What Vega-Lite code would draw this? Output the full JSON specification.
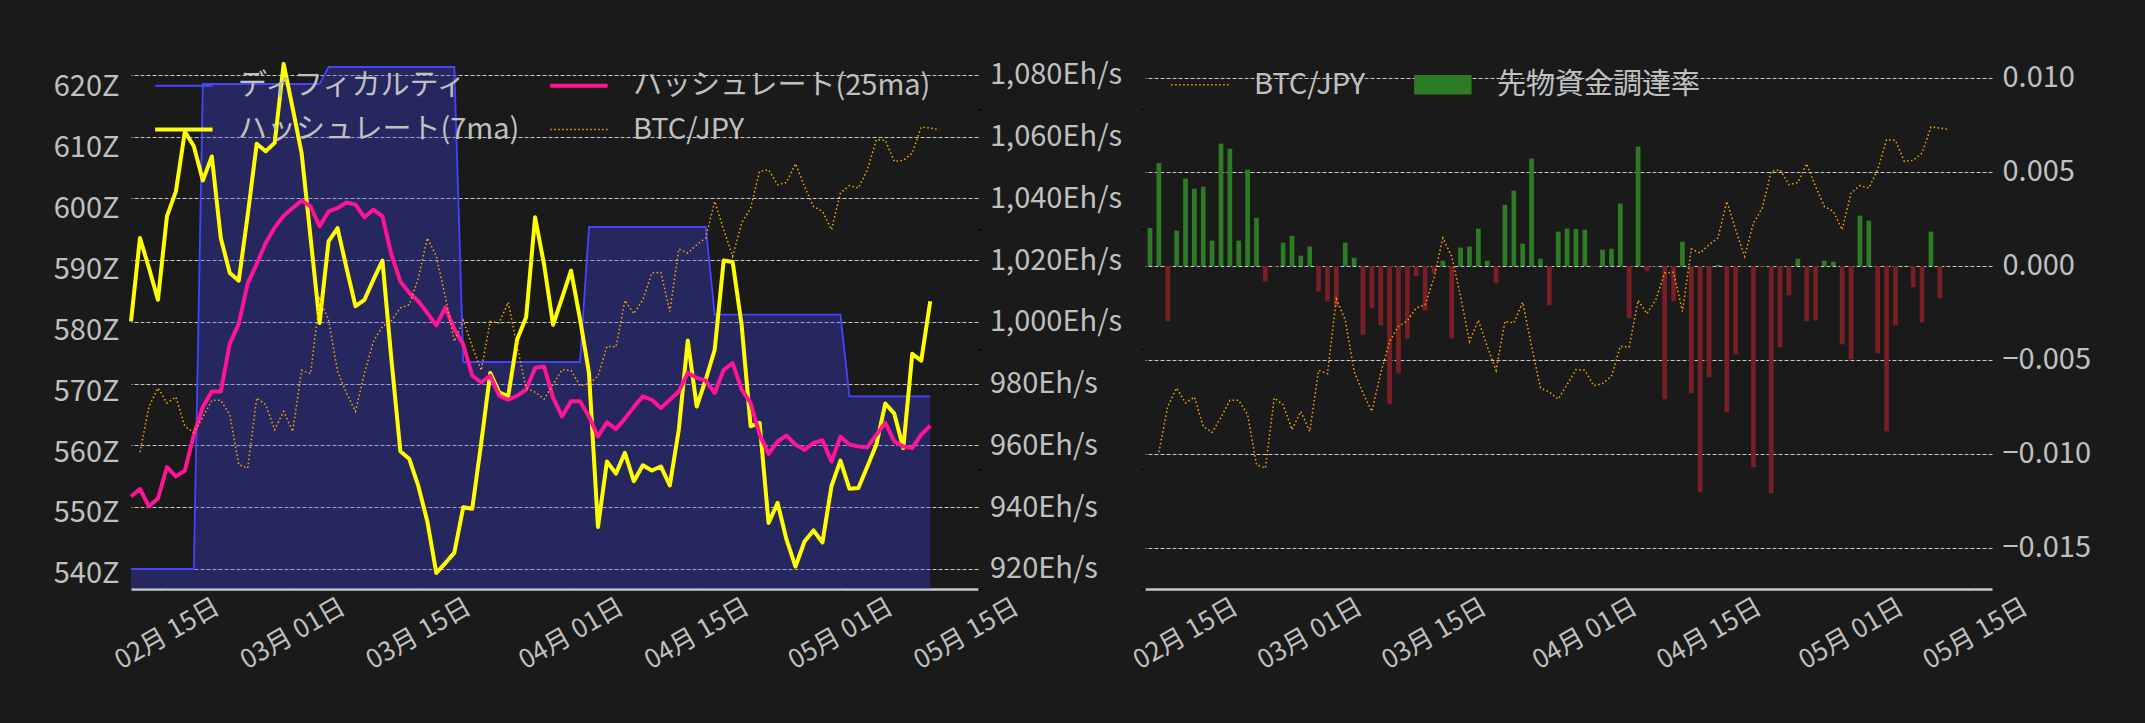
{
  "$schema": "https://vega.github.io/schema/vega-lite/v6.json",
  "background": "#1a1a1a",
  "padding": {"left": 53, "top": 40, "right": 70, "bottom": 70},
  "config": {
    "view": {"stroke": null},
    "font": "Noto Sans CJK JP",
    "axis": {"labelColor": "#c0c0c0", "labelFont": "Noto Sans CJK JP"},
    "legend": {"labelFont": "Noto Sans CJK JP", "labelColor": "#c0c0c0"}
  },
  "data": {
    "values": [
      {"date": "2025-02-11", "difficulty": 540.8, "hash7": 1000.2, "hash25": 943.5, "btc": null, "funding": 0.00202},
      {"date": "2025-02-12", "difficulty": 540.8, "hash7": 1027.2, "hash25": 945.9, "btc": 12140000, "funding": 0.00548},
      {"date": "2025-02-13", "difficulty": 540.8, "hash7": 1017.5, "hash25": 940.3, "btc": 12520000, "funding": -0.00294},
      {"date": "2025-02-14", "difficulty": 540.8, "hash7": 1007.2, "hash25": 942.8, "btc": 12675000, "funding": 0.00188},
      {"date": "2025-02-15", "difficulty": 540.8, "hash7": 1034.2, "hash25": 953.0, "btc": 12550000, "funding": 0.00465},
      {"date": "2025-02-16", "difficulty": 540.8, "hash7": 1042.3, "hash25": 950.0, "btc": 12600000, "funding": 0.00411},
      {"date": "2025-02-17", "difficulty": 540.8, "hash7": 1061.7, "hash25": 951.9, "btc": 12355000, "funding": 0.00422},
      {"date": "2025-02-18", "difficulty": 540.8, "hash7": 1056.9, "hash25": 963.5, "btc": 12305000, "funding": 0.00135},
      {"date": "2025-02-19", "difficulty": 620.39, "hash7": 1045.8, "hash25": 972.5, "btc": 12430000, "funding": 0.00651},
      {"date": "2025-02-20", "difficulty": 620.39, "hash7": 1053.6, "hash25": 977.5, "btc": 12572000, "funding": 0.00624},
      {"date": "2025-02-21", "difficulty": 620.39, "hash7": 1027.2, "hash25": 977.5, "btc": 12572000, "funding": 0.00135},
      {"date": "2025-02-22", "difficulty": 620.39, "hash7": 1015.9, "hash25": 993.0, "btc": 12453000, "funding": 0.00512},
      {"date": "2025-02-23", "difficulty": 620.39, "hash7": 1013.4, "hash25": 999.4, "btc": 12036000, "funding": 0.00257},
      {"date": "2025-02-24", "difficulty": 620.39, "hash7": 1034.7, "hash25": 1012.6, "btc": 12008000, "funding": -0.00082},
      {"date": "2025-02-25", "difficulty": 620.39, "hash7": 1057.7, "hash25": 1018.8, "btc": 12592000, "funding": -0.00005},
      {"date": "2025-02-26", "difficulty": 620.39, "hash7": 1055.3, "hash25": 1025.6, "btc": 12536000, "funding": 0.00124},
      {"date": "2025-02-27", "difficulty": 620.39, "hash7": 1058.0, "hash25": 1030.6, "btc": 12328000, "funding": 0.00161},
      {"date": "2025-02-28", "difficulty": 620.39, "hash7": 1083.6, "hash25": 1034.4, "btc": 12480000, "funding": 0.00055},
      {"date": "2025-03-01", "difficulty": 620.39, "hash7": 1069.3, "hash25": 1036.9, "btc": 12313000, "funding": 0.00103},
      {"date": "2025-03-02", "difficulty": 620.39, "hash7": 1054.7, "hash25": 1039.3, "btc": 12822000, "funding": -0.00135},
      {"date": "2025-03-03", "difficulty": 620.39, "hash7": 1027.2, "hash25": 1037.4, "btc": 12794000, "funding": -0.00188},
      {"date": "2025-03-04", "difficulty": 620.39, "hash7": 999.7, "hash25": 1031.0, "btc": 13417000, "funding": -0.00218},
      {"date": "2025-03-05", "difficulty": 623.18, "hash7": 1026.1, "hash25": 1035.8, "btc": 13244000, "funding": 0.00124},
      {"date": "2025-03-06", "difficulty": 623.18, "hash7": 1030.4, "hash25": 1036.9, "btc": 12814000, "funding": 0.00044},
      {"date": "2025-03-07", "difficulty": 623.18, "hash7": 1017.5, "hash25": 1038.7, "btc": 12633000, "funding": -0.00365},
      {"date": "2025-03-08", "difficulty": 623.18, "hash7": 1005.1, "hash25": 1038.0, "btc": 12480000, "funding": -0.00225},
      {"date": "2025-03-09", "difficulty": 623.18, "hash7": 1007.2, "hash25": 1033.9, "btc": 12800000, "funding": -0.00316},
      {"date": "2025-03-10", "difficulty": 623.18, "hash7": 1013.7, "hash25": 1036.4, "btc": 13063000, "funding": -0.00736},
      {"date": "2025-03-11", "difficulty": 623.18, "hash7": 1019.9, "hash25": 1034.2, "btc": 13188000, "funding": -0.00571},
      {"date": "2025-03-12", "difficulty": 623.18, "hash7": 987.8, "hash25": 1021.8, "btc": 13236000, "funding": -0.00385},
      {"date": "2025-03-13", "difficulty": 623.18, "hash7": 958.1, "hash25": 1013.1, "btc": 13342000, "funding": -0.00055},
      {"date": "2025-03-14", "difficulty": 623.18, "hash7": 955.6, "hash25": 1009.4, "btc": 13369000, "funding": -0.00236},
      {"date": "2025-03-15", "difficulty": 623.18, "hash7": 946.8, "hash25": 1006.7, "btc": 13592000, "funding": -0.00039},
      {"date": "2025-03-16", "difficulty": 623.18, "hash7": 935.4, "hash25": 1002.9, "btc": 13925000, "funding": 0.00028},
      {"date": "2025-03-17", "difficulty": 623.18, "hash7": 918.7, "hash25": 998.9, "btc": 13772000, "funding": -0.00385},
      {"date": "2025-03-18", "difficulty": 623.18, "hash7": 921.9, "hash25": 1004.7, "btc": 13438000, "funding": 0.00098},
      {"date": "2025-03-19", "difficulty": 623.18, "hash7": 925.2, "hash25": 997.8, "btc": 13063000, "funding": 0.00103},
      {"date": "2025-03-20", "difficulty": 574.77, "hash7": 940.0, "hash25": 992.7, "btc": 13239000, "funding": 0.00199},
      {"date": "2025-03-21", "difficulty": 574.77, "hash7": 939.5, "hash25": 982.6, "btc": 13022000, "funding": 0.00028},
      {"date": "2025-03-22", "difficulty": 574.77, "hash7": 960.8, "hash25": 980.4, "btc": 12822000, "funding": -0.00092},
      {"date": "2025-03-23", "difficulty": 574.77, "hash7": 983.5, "hash25": 982.6, "btc": 13230000, "funding": 0.00326},
      {"date": "2025-03-24", "difficulty": 574.77, "hash7": 977.2, "hash25": 976.1, "btc": 13217000, "funding": 0.00401},
      {"date": "2025-03-25", "difficulty": 574.77, "hash7": 975.9, "hash25": 974.8, "btc": 13389000, "funding": 0.00119},
      {"date": "2025-03-26", "difficulty": 574.77, "hash7": 994.3, "hash25": 976.1, "btc": 13022000, "funding": 0.00571},
      {"date": "2025-03-27", "difficulty": 574.77, "hash7": 1001.5, "hash25": 978.1, "btc": 12675000, "funding": 0.00039},
      {"date": "2025-03-28", "difficulty": 574.77, "hash7": 1033.9, "hash25": 985.1, "btc": 12640000, "funding": -0.00209},
      {"date": "2025-03-29", "difficulty": 574.77, "hash7": 1018.6, "hash25": 985.6, "btc": 12583000, "funding": 0.00183},
      {"date": "2025-03-30", "difficulty": 574.77, "hash7": 999.1, "hash25": 975.5, "btc": 12703000, "funding": 0.00199},
      {"date": "2025-03-31", "difficulty": 574.77, "hash7": 1007.8, "hash25": 969.4, "btc": 12828000, "funding": 0.00197},
      {"date": "2025-04-01", "difficulty": 574.77, "hash7": 1016.6, "hash25": 974.3, "btc": 12822000, "funding": 0.00193},
      {"date": "2025-04-02", "difficulty": 574.77, "hash7": 1001.0, "hash25": 974.3, "btc": 12694000, "funding": -0.00005},
      {"date": "2025-04-03", "difficulty": 596.92, "hash7": 983.5, "hash25": 969.4, "btc": 12711000, "funding": 0.00087},
      {"date": "2025-04-04", "difficulty": 596.92, "hash7": 933.6, "hash25": 962.9, "btc": 12772000, "funding": 0.00092},
      {"date": "2025-04-05", "difficulty": 596.92, "hash7": 954.8, "hash25": 967.5, "btc": 13022000, "funding": 0.00332},
      {"date": "2025-04-06", "difficulty": 596.92, "hash7": 950.9, "hash25": 965.3, "btc": 13017000, "funding": -0.00278},
      {"date": "2025-04-07", "difficulty": 596.92, "hash7": 957.6, "hash25": 968.7, "btc": 13405000, "funding": 0.00635},
      {"date": "2025-04-08", "difficulty": 596.92, "hash7": 948.4, "hash25": 972.5, "btc": 13294000, "funding": -0.00028},
      {"date": "2025-04-09", "difficulty": 596.92, "hash7": 953.6, "hash25": 975.9, "btc": 13411000, "funding": -0.00004},
      {"date": "2025-04-10", "difficulty": 596.92, "hash7": 951.9, "hash25": 974.8, "btc": 13633000, "funding": -0.00709},
      {"date": "2025-04-11", "difficulty": 596.92, "hash7": 953.2, "hash25": 972.1, "btc": 13639000, "funding": -0.00188},
      {"date": "2025-04-12", "difficulty": 596.92, "hash7": 947.1, "hash25": 974.8, "btc": 13313000, "funding": 0.00129},
      {"date": "2025-04-13", "difficulty": 596.92, "hash7": 965.1, "hash25": 977.5, "btc": 13833000, "funding": -0.00677},
      {"date": "2025-04-14", "difficulty": 596.92, "hash7": 994.0, "hash25": 983.5, "btc": 13800000, "funding": -0.01204},
      {"date": "2025-04-15", "difficulty": 596.92, "hash7": 972.6, "hash25": 981.9, "btc": 13869000, "funding": -0.00592},
      {"date": "2025-04-16", "difficulty": 596.92, "hash7": 981.3, "hash25": 981.0, "btc": 13925000, "funding": 0.00006},
      {"date": "2025-04-17", "difficulty": 582.53, "hash7": 991.0, "hash25": 977.0, "btc": 14230000, "funding": -0.00778},
      {"date": "2025-04-18", "difficulty": 582.53, "hash7": 1019.9, "hash25": 984.5, "btc": 13994000, "funding": -0.0047},
      {"date": "2025-04-19", "difficulty": 582.53, "hash7": 1019.4, "hash25": 986.7, "btc": 13772000, "funding": -0.00004},
      {"date": "2025-04-20", "difficulty": 582.53, "hash7": 999.0, "hash25": 978.1, "btc": 14050000, "funding": -0.01071},
      {"date": "2025-04-21", "difficulty": 582.53, "hash7": 966.2, "hash25": 973.8, "btc": 14175000, "funding": -0.00004},
      {"date": "2025-04-22", "difficulty": 582.53, "hash7": 967.3, "hash25": 963.5, "btc": 14480000, "funding": -0.01209},
      {"date": "2025-04-23", "difficulty": 582.53, "hash7": 934.9, "hash25": 957.3, "btc": 14494000, "funding": -0.00433},
      {"date": "2025-04-24", "difficulty": 582.53, "hash7": 941.4, "hash25": 961.3, "btc": 14369000, "funding": -0.00156},
      {"date": "2025-04-25", "difficulty": 582.53, "hash7": 929.5, "hash25": 963.2, "btc": 14388000, "funding": 0.00039},
      {"date": "2025-04-26", "difficulty": 582.53, "hash7": 920.8, "hash25": 960.3, "btc": 14544000, "funding": -0.00294},
      {"date": "2025-04-27", "difficulty": 582.53, "hash7": 928.9, "hash25": 958.6, "btc": 14355000, "funding": -0.00289},
      {"date": "2025-04-28", "difficulty": 582.53, "hash7": 932.5, "hash25": 960.8, "btc": 14188000, "funding": 0.00028},
      {"date": "2025-04-29", "difficulty": 582.53, "hash7": 928.6, "hash25": 961.7, "btc": 14147000, "funding": 0.00023},
      {"date": "2025-04-30", "difficulty": 582.53, "hash7": 946.8, "hash25": 954.8, "btc": 13994000, "funding": -0.00417},
      {"date": "2025-05-01", "difficulty": 582.53, "hash7": 955.1, "hash25": 962.8, "btc": 14300000, "funding": -0.00496},
      {"date": "2025-05-02", "difficulty": 569.13, "hash7": 946.0, "hash25": 960.3, "btc": 14361000, "funding": 0.00268},
      {"date": "2025-05-03", "difficulty": 569.13, "hash7": 946.2, "hash25": 959.7, "btc": 14342000, "funding": 0.00241},
      {"date": "2025-05-04", "difficulty": 569.13, "hash7": 953.2, "hash25": 959.4, "btc": 14494000, "funding": -0.00465},
      {"date": "2025-05-05", "difficulty": 569.13, "hash7": 960.3, "hash25": 963.5, "btc": 14744000, "funding": -0.0088},
      {"date": "2025-05-06", "difficulty": 569.13, "hash7": 973.6, "hash25": 967.3, "btc": 14739000, "funding": -0.00316},
      {"date": "2025-05-07", "difficulty": 569.13, "hash7": 970.3, "hash25": 961.3, "btc": 14563000, "funding": 0},
      {"date": "2025-05-08", "difficulty": 569.13, "hash7": 959.2, "hash25": 959.7, "btc": 14572000, "funding": -0.00113},
      {"date": "2025-05-09", "difficulty": 569.13, "hash7": 989.7, "hash25": 959.2, "btc": 14633000, "funding": -0.003},
      {"date": "2025-05-10", "difficulty": 569.13, "hash7": 987.5, "hash25": 963.5, "btc": 14850000, "funding": 0.00183},
      {"date": "2025-05-11", "difficulty": 569.13, "hash7": 1006.7, "hash25": 966.4, "btc": 14842000, "funding": -0.00172},
      {"date": "2025-05-12", "difficulty": null, "hash7": null, "hash25": null, "btc": 14828000, "funding": null}
    ]
  },
  "bounds": "flush",
  "spacing": 167,
  "resolve": {"scale": {"color": "independent"}, "legend": {"color": "independent"}},
  "hconcat": [
    {
      "width": 847,
      "height": 549,
      "encoding": {
        "x": {
          "field": "date", "type": "temporal",
          "scale": {"type": "utc", "nice": false, "domain": [{"year": 2025, "month": 2, "date": 11, "utc": true}, {"year": 2025, "month": 5, "date": 16, "hours": 7, "minutes": 40, "utc": true}]},
          "axis": {
            "title": null, "format": "%m月 %d日",
            "values": [{"year": 2025, "month": 2, "date": 15, "utc": true}, {"year": 2025, "month": 3, "date": 1, "utc": true}, {"year": 2025, "month": 3, "date": 15, "utc": true}, {"year": 2025, "month": 4, "date": 1, "utc": true}, {"year": 2025, "month": 4, "date": 15, "utc": true}, {"year": 2025, "month": 5, "date": 1, "utc": true}, {"year": 2025, "month": 5, "date": 15, "utc": true}],
            "labelAngle": -30, "labelAlign": "center", "labelBaseline": "middle", "labelPadding": 41, "labelFontSize": 26,
            "labelOverlap": false, "labelFlush": false, "tickColor": "#000000", "tickSize": 3.5,
            "domainColor": "#c8c8c8", "domainWidth": 2.5, "grid": false
          }
        }
      },
      "layer": [
        {
          "layer": [
            {
              "mark": {"type": "area", "color": "#4444ff", "opacity": 0.3, "clip": true},
              "encoding": {
                "y": {"field": "difficulty", "type": "quantitative", "scale": {"domain": [537.52, 627.61], "nice": false, "zero": false},
                  "axis": {"orient": "left", "title": null, "values": [540, 550, 560, 570, 580, 590, 600, 610, 620], "labelExpr": "datum.value + 'Z'", "ticks": false, "domain": false, "grid": false, "labelPadding": 12, "labelFontSize": 29}},
                "y2": {"datum": 537.52}
              }
            },
            {
              "mark": {"type": "line", "strokeWidth": 1.8},
              "encoding": {
                "y": {"field": "difficulty", "type": "quantitative", "scale": {"domain": [537.52, 627.61], "nice": false, "zero": false},
                  "axis": {"orient": "left", "title": null, "values": [540, 550, 560, 570, 580, 590, 600, 610, 620], "labelExpr": "datum.value + 'Z'", "ticks": false, "domain": false, "grid": false, "labelPadding": 12, "labelFontSize": 29}},
                "color": {
                  "datum": "ディフィカルティ",
                  "scale": {"domain": ["ディフィカルティ", "ハッシュレート(7ma)", "ハッシュレート(25ma)", "BTC/JPY"], "range": ["#4444ff", "#ffff00", "#ff1493", "#ffa500"]},
                  "legend": {
                    "title": null, "orient": "none", "legendX": 24, "legendY": 31, "columns": 2, "columnPadding": 22, "rowPadding": 14,
                    "symbolType": "M-1,0L3,0", "symbolSize": 824, "labelFontSize": 29, "labelColor": "#c0c0c0", "labelOffset": 54, "labelLimit": 400,
                    "encode": {"symbols": {"update": {
                      "fill": {"value": "transparent"},
                      "strokeWidth": {"signal": "datum.value === 'ディフィカルティ' ? 1.8 : (datum.value === 'BTC/JPY' ? 1.5 : 4)"},
                      "strokeDash": {"signal": "datum.value === 'BTC/JPY' ? [1.5, 2.5] : null"},
                      "opacity": {"value": 1}
                    }}}
                  }
                }
              }
            }
          ]
        },
        {
          "layer": [
            {
              "mark": {"type": "line", "strokeWidth": 4, "strokeJoin": "round"},
              "encoding": {
                "y": {"field": "hash7", "type": "quantitative", "scale": {"domain": [913.52, 1091.33], "nice": false, "zero": false},
                  "axis": {"orient": "right", "title": null, "values": [920, 940, 960, 980, 1000, 1020, 1040, 1060, 1080], "labelExpr": "format(datum.value, ',') + 'Eh/s'", "ticks": false, "domain": false, "grid": true, "gridColor": "#c8c8c8", "gridDash": [4, 2], "gridWidth": 1, "labelPadding": 11.5, "labelFontSize": 29}},
                "color": {"datum": "ハッシュレート(7ma)", "scale": {"domain": ["ディフィカルティ", "ハッシュレート(7ma)", "ハッシュレート(25ma)", "BTC/JPY"], "range": ["#4444ff", "#ffff00", "#ff1493", "#ffa500"]}}
              }
            },
            {
              "mark": {"type": "line", "strokeWidth": 4, "strokeJoin": "round"},
              "encoding": {
                "y": {"field": "hash25", "type": "quantitative", "scale": {"domain": [913.52, 1091.33], "nice": false, "zero": false},
                  "axis": {"orient": "right", "title": null, "values": [920, 940, 960, 980, 1000, 1020, 1040, 1060, 1080], "labelExpr": "format(datum.value, ',') + 'Eh/s'", "ticks": false, "domain": false, "grid": true, "gridColor": "#c8c8c8", "gridDash": [4, 2], "gridWidth": 1, "labelPadding": 11.5, "labelFontSize": 29}},
                "color": {"datum": "ハッシュレート(25ma)", "scale": {"domain": ["ディフィカルティ", "ハッシュレート(7ma)", "ハッシュレート(25ma)", "BTC/JPY"], "range": ["#4444ff", "#ffff00", "#ff1493", "#ffa500"]}}
              }
            }
          ]
        },
        {
          "mark": {"type": "line", "strokeWidth": 1.5, "strokeDash": [1.5, 2.5]},
          "encoding": {
            "y": {"field": "btc", "type": "quantitative", "scale": {"domain": [11000000, 15575000], "nice": false, "zero": false},
              "axis": {"orient": "right", "title": null, "values": [11000000, 12000000, 13000000, 14000000, 15000000], "labels": false, "ticks": true, "tickColor": "#000000", "tickSize": 4, "domain": false, "grid": false}},
            "color": {"datum": "BTC/JPY", "scale": {"domain": ["ディフィカルティ", "ハッシュレート(7ma)", "ハッシュレート(25ma)", "BTC/JPY"], "range": ["#4444ff", "#ffff00", "#ff1493", "#ffa500"]}}
          }
        }
      ],
      "resolve": {"scale": {"y": "independent"}}
    },
    {
      "width": 847,
      "height": 549,
      "encoding": {
        "x": {
          "field": "date", "type": "temporal",
          "scale": {"type": "utc", "nice": false, "domain": [{"year": 2025, "month": 2, "date": 11, "utc": true}, {"year": 2025, "month": 5, "date": 16, "hours": 7, "minutes": 40, "utc": true}]},
          "axis": {
            "title": null, "format": "%m月 %d日",
            "values": [{"year": 2025, "month": 2, "date": 15, "utc": true}, {"year": 2025, "month": 3, "date": 1, "utc": true}, {"year": 2025, "month": 3, "date": 15, "utc": true}, {"year": 2025, "month": 4, "date": 1, "utc": true}, {"year": 2025, "month": 4, "date": 15, "utc": true}, {"year": 2025, "month": 5, "date": 1, "utc": true}, {"year": 2025, "month": 5, "date": 15, "utc": true}],
            "labelAngle": -30, "labelAlign": "center", "labelBaseline": "middle", "labelPadding": 41, "labelFontSize": 26,
            "labelOverlap": false, "labelFlush": false, "tickColor": "#000000", "tickSize": 3.5,
            "domainColor": "#c8c8c8", "domainWidth": 2.5, "grid": false
          }
        }
      },
      "layer": [
        {
          "layer": [
            {
              "transform": [{"filter": "isValid(datum.funding) && datum.funding >= 0"}],
              "mark": {"type": "bar", "size": 4.7},
              "encoding": {
                "y": {"field": "funding", "type": "quantitative", "scale": {"domain": [-0.017181, 0.012021], "nice": false, "zero": false},
                  "axis": {"orient": "right", "title": null, "values": [-0.015, -0.01, -0.005, 0, 0.005, 0.01], "format": ".3f", "ticks": false, "domain": false, "grid": true, "gridColor": "#c8c8c8", "gridDash": [4, 2], "gridWidth": 1, "labelPadding": 10, "labelFontSize": 29}},
                "y2": {"datum": 0},
                "color": {
                  "datum": "先物資金調達率",
                  "scale": {"domain": ["BTC/JPY", "先物資金調達率"], "range": ["#ffa500", "#2e7b25"]},
                  "legend": {
                    "title": null, "orient": "none", "legendX": 26, "legendY": 30, "columns": 2, "columnPadding": 48,
                    "symbolType": "M-1,0L3,0", "symbolSize": 824, "labelFontSize": 29, "labelColor": "#c0c0c0", "labelOffset": 54, "labelLimit": 400,
                    "encode": {"symbols": {"update": {
                      "shape": {"signal": "datum.value === 'BTC/JPY' ? 'M-1,0L3,0' : 'M-1,-0.68L3,-0.68L3,0.68L-1,0.68Z'"},
                      "fill": {"signal": "datum.value === 'BTC/JPY' ? 'transparent' : '#2e7b25'"},
                      "stroke": {"signal": "datum.value === 'BTC/JPY' ? '#ffa500' : 'transparent'"},
                      "strokeWidth": {"signal": "datum.value === 'BTC/JPY' ? 1.5 : 0"},
                      "strokeDash": {"signal": "datum.value === 'BTC/JPY' ? [1.5, 2.5] : null"},
                      "opacity": {"value": 1}
                    }}}
                  }
                }
              }
            },
            {
              "transform": [{"filter": "isValid(datum.funding) && datum.funding < 0"}],
              "mark": {"type": "bar", "size": 4.7, "color": "#7a1e26"},
              "encoding": {
                "y": {"field": "funding", "type": "quantitative", "scale": {"domain": [-0.017181, 0.012021], "nice": false, "zero": false},
                  "axis": {"orient": "right", "title": null, "values": [-0.015, -0.01, -0.005, 0, 0.005, 0.01], "format": ".3f", "ticks": false, "domain": false, "grid": true, "gridColor": "#c8c8c8", "gridDash": [4, 2], "gridWidth": 1, "labelPadding": 10, "labelFontSize": 29}},
                "y2": {"datum": 0}
              }
            }
          ]
        },
        {
          "mark": {"type": "line", "strokeWidth": 1.5, "strokeDash": [1.5, 2.5]},
          "encoding": {
            "y": {"field": "btc", "type": "quantitative", "scale": {"domain": [11000000, 15575000], "nice": false, "zero": false},
              "axis": {"orient": "left", "title": null, "values": [11000000, 12000000, 13000000, 14000000, 15000000], "labels": false, "ticks": true, "tickColor": "#000000", "tickSize": 4, "domain": false, "grid": false}},
            "color": {"datum": "BTC/JPY", "scale": {"domain": ["BTC/JPY", "先物資金調達率"], "range": ["#ffa500", "#2e7b25"]}}
          }
        }
      ],
      "resolve": {"scale": {"y": "independent"}}
    }
  ]
}
